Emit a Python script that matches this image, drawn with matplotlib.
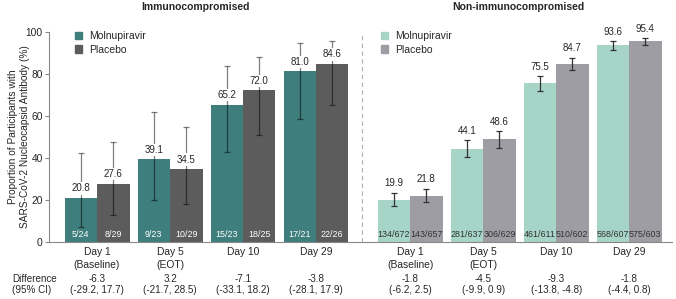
import matplotlib.pyplot as plt
from matplotlib.patches import Patch
from matplotlib.transforms import blended_transform_factory

plt.rcParams['font.family'] = ['Liberation Sans', 'DejaVu Sans']

# Данные
days = ['Day 1\n(Baseline)', 'Day 5\n(EOT)', 'Day 10', 'Day 29']

imm_mol = [20.8, 39.1, 65.2, 81.0]
imm_pla = [27.6, 34.5, 72.0, 84.6]
imm_mol_lo = [7.1, 19.7, 42.7, 58.1]
imm_mol_hi = [42.2, 61.5, 83.6, 94.6]
imm_pla_lo = [12.7, 17.9, 50.6, 65.1]
imm_pla_hi = [47.2, 54.3, 87.9, 95.6]
imm_mol_n = ['5/24', '9/23', '15/23', '17/21']
imm_pla_n = ['8/29', '10/29', '18/25', '22/26']
imm_diff = ['-6.3', '3.2', '-7.1', '-3.8']
imm_ci = ['(-29.2, 17.7)', '(-21.7, 28.5)', '(-33.1, 18.2)', '(-28.1, 17.9)']

non_mol = [19.9, 44.1, 75.5, 93.6]
non_pla = [21.8, 48.6, 84.7, 95.4]
non_mol_lo = [16.9, 40.2, 71.8, 91.3]
non_mol_hi = [23.2, 48.1, 78.8, 95.4]
non_pla_lo = [18.7, 44.7, 81.6, 93.4]
non_pla_hi = [25.1, 52.6, 87.5, 96.9]
non_mol_n = ['134/672', '281/637', '461/611', '568/607']
non_pla_n = ['143/657', '306/629', '510/602', '575/603']
non_diff = ['-1.8', '-4.5', '-9.3', '-1.8']
non_ci = ['(-6.2, 2.5)', '(-9.9, 0.9)', '(-13.8, -4.8)', '(-4.4, 0.8)']

# Цвета
c_imm_mol = '#3e7e7c'
c_imm_pla = '#5c5c5c'
c_non_mol = '#a6d5c7'
c_non_pla = '#9e9da4'
txt = '#262626'

fig = plt.figure(figsize=(6.76, 2.99), dpi=100)
ax = fig.add_axes([49 / 676, 57.5 / 299, 623 / 676, 210 / 299])

w = 0.445
pos_imm = [0, 1, 2, 3]
pos_non = [p + 4.29 for p in pos_imm]


def draw_group(pos, mol, pla, mlo, mhi, plo, phi, mn, pn, cm, cp, ecol, inner_col, label_above_ci):
    xm = [p - w / 2 for p in pos]
    xp = [p + w / 2 for p in pos]
    ax.bar(xm, mol, width=w, color=cm, zorder=2)
    ax.bar(xp, pla, width=w, color=cp, zorder=2)
    for xs, vals, lo, hi, ns in [(xm, mol, mlo, mhi, mn), (xp, pla, plo, phi, pn)]:
        yerr = [[v - l for v, l in zip(vals, lo)], [h - v for v, h in zip(vals, hi)]]
        ax.errorbar(xs, vals, yerr=yerr, fmt='none', ecolor=ecol, elinewidth=0.9,
                    capsize=2.5, capthick=0.9, zorder=3)
        for x, v, h, n in zip(xs, vals, hi, ns):
            if label_above_ci:
                ax.annotate(f'{v:.1f}', (x, h), xytext=(0, 6.8), textcoords='offset points',
                            ha='center', va='center', fontsize=7, color=txt, zorder=5)
            else:
                ax.annotate(f'{v:.1f}', (x, v), xytext=(0, 6.8), textcoords='offset points',
                            ha='center', va='center', fontsize=7, color=txt, zorder=5,
                            bbox=dict(boxstyle='square,pad=0.12', fc='white', ec='none'))
            ax.annotate(n, (x, 0), xytext=(0, 5.1), textcoords='offset points',
                        ha='center', va='center', fontsize=6.4, color=inner_col, zorder=5)


draw_group(pos_imm, imm_mol, imm_pla, imm_mol_lo, imm_mol_hi, imm_pla_lo, imm_pla_hi,
           imm_mol_n, imm_pla_n, c_imm_mol, c_imm_pla, (0, 0, 0, 0.5), 'white', False)
draw_group(pos_non, non_mol, non_pla, non_mol_lo, non_mol_hi, non_pla_lo, non_pla_hi,
           non_mol_n, non_pla_n, c_non_mol, c_non_pla, '#333333', '#333333', True)

# Разделитель
ax.plot([3.63, 3.63], [0, 100], ls=(0, (4, 3)), color='#b0b0b0', lw=0.8, zorder=1)

ax.set_xlim(-0.658, 7.877)
ax.set_ylim(0, 100)
ax.set_yticks([0, 20, 40, 60, 80, 100])
ax.set_xticks(pos_imm + pos_non)
ax.set_xticklabels(days + days, fontsize=7.4, color=txt, linespacing=1.35)
ax.tick_params(axis='x', length=0, pad=4)
ax.tick_params(axis='y', length=3, width=0.8, color='#888888', labelsize=7.4,
               labelcolor=txt, pad=1.5)
for s in ['top', 'right']:
    ax.spines[s].set_visible(False)
for s in ['left', 'bottom']:
    ax.spines[s].set_color('#888888')
    ax.spines[s].set_linewidth(0.8)

fig.text(19 / 676, 1 - 136.5 / 299,
         'Proportion of Participants with\nSARS-CoV-2 Nucleocapsid Antibody (%)',
         rotation=90, ha='center', va='center', fontsize=7.3, color=txt, linespacing=1.15)

# Заголовки
fig.text(196 / 676, 1 - 6.5 / 299, 'Immunocompromised', ha='center', va='center',
         fontsize=7.5, fontweight='bold', color=txt)
fig.text(518 / 676, 1 - 6.5 / 299, 'Non-immunocompromised', ha='center', va='center',
         fontsize=7.5, fontweight='bold', color=txt)

# Легенды
leg_kw = dict(loc='upper left', bbox_transform=fig.transFigure, frameon=False,
              borderpad=0, borderaxespad=0, handlelength=0.7, handleheight=0.7,
              handletextpad=0.65, labelspacing=0.35, fontsize=7.5, labelcolor=txt)
leg1 = ax.legend(handles=[Patch(color=c_imm_mol, label='Molnupiravir'),
                          Patch(color=c_imm_pla, label='Placebo')],
                 bbox_to_anchor=(75 / 676, 1 - 31 / 299), **leg_kw)
ax.add_artist(leg1)
ax.legend(handles=[Patch(color=c_non_mol, label='Molnupiravir'),
                   Patch(color=c_non_pla, label='Placebo')],
          bbox_to_anchor=(381 / 676, 1 - 31 / 299), **leg_kw)

# Разница (95% ДИ)
tr = blended_transform_factory(ax.transData, fig.transFigure)
fig.text(12 / 676, 1 - 278.7 / 299, 'Difference', ha='left', va='center', fontsize=7.1, color=txt)
fig.text(12 / 676, 1 - 290 / 299, '(95% CI)', ha='left', va='center', fontsize=7.1, color=txt)
for p, d, c in zip(pos_imm + pos_non, imm_diff + non_diff, imm_ci + non_ci):
    ax.text(p, 1 - 278.7 / 299, d, transform=tr, ha='center', va='center', fontsize=7.1, color=txt)
    ax.text(p, 1 - 290 / 299, c, transform=tr, ha='center', va='center', fontsize=7.1, color=txt)

fig.savefig('out.png', dpi=100)
